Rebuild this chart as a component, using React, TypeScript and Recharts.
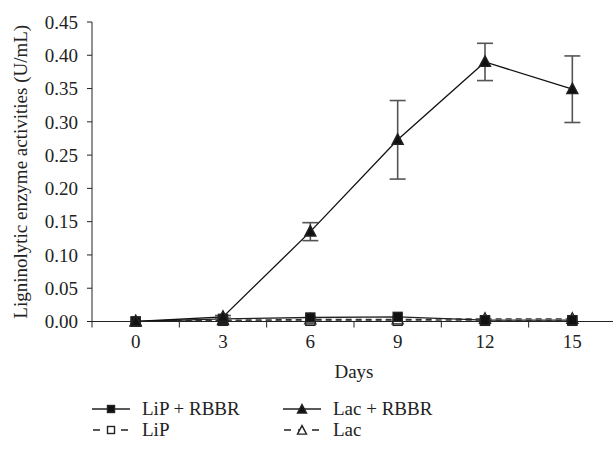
import { LineChart, Line, XAxis, YAxis, ErrorBar } from "recharts";

const days = [0, 3, 6, 9, 12, 15];
const lipRbbr = [0, 0.004, 0.006, 0.007, 0.002, 0.002];
const lacRbbr = [0, 0.007, 0.135, 0.273, 0.39, 0.349];
const lacRbbrErr = [0, 0.002, 0.0135, 0.059, 0.028, 0.05];
const lip = [0, 0.001, 0.001, 0.001, 0.001, 0.001];
const lac = [0, 0.002, 0.003, 0.003, 0.004, 0.004];

const yTicks = [0, 0.05, 0.1, 0.15, 0.2, 0.25, 0.3, 0.35, 0.4, 0.45];
// ticks between the days carry only a tick mark, the days carry only a label
const xTicks = [-1.5, 0, 1.5, 3, 4.5, 6, 7.5, 9, 10.5, 12, 13.5, 15, 16.5];

const data = days.map((d, i) => ({
    day: d,
    lipRbbr: lipRbbr[i],
    lacRbbr: lacRbbr[i],
    lacRbbrErr: lacRbbrErr[i],
    lip: lip[i],
    lac: lac[i],
}));

const FONT = "'Liberation Serif', 'DejaVu Serif', serif";
const FS = 19;

const Square = ({ cx, cy, filled, s = 9 }: any) => (
    <rect x={cx - s / 2} y={cy - s / 2} width={s} height={s} fill={filled ? "#111" : "#fff"} stroke="#222" strokeWidth={1.4} />
);

const Triangle = ({ cx, cy, filled, s = 11 }: any) => (
    <path d={`M${cx},${cy - s * 0.55} L${cx + s / 2},${cy + s * 0.4} L${cx - s / 2},${cy + s * 0.4} Z`} fill={filled ? "#111" : "#fff"} stroke="#222" strokeWidth={1.4} />
);

const XTick = ({ x, y, payload }: any) => {
    const v = payload.value;
    if (days.includes(v)) {
        return (
            <text x={x} y={y} dy={26} textAnchor="middle" fontFamily={FONT} fontSize={FS} fill="#222">
                {v}
            </text>
        );
    }
    return <line x1={x} x2={x} y1={y} y2={y + 6} stroke="#222" strokeWidth={1} />;
};

const LegendIcon = ({ kind, filled, dashed }: any) => (
    <svg width={38} height={14} style={{ display: "block" }}>
        <line x1={0} x2={38} y1={7} y2={7} stroke="#222" strokeWidth={1.3} strokeDasharray={dashed ? "7 7" : undefined} strokeDashoffset={dashed ? -1 : 0} />
        {kind === "square" ? <Square cx={19} cy={7} filled={filled} s={7} /> : <Triangle cx={19} cy={7.5} filled={filled} s={9} />}
    </svg>
);

const legendItems = [
    { name: "LiP + RBBR", kind: "square", filled: true, dashed: false },
    { name: "Lac + RBBR", kind: "triangle", filled: true, dashed: false },
    { name: "LiP", kind: "square", filled: false, dashed: true },
    { name: "Lac", kind: "triangle", filled: false, dashed: true },
];

export default function App() {
    return (
        <div style={{ position: "absolute", left: 0, top: 0, width: 613, height: 451, overflow: "hidden", background: "#fff" }}>
            <LineChart width={616} height={451} data={data} margin={{ top: 22, right: 0, left: 0, bottom: 99.5 }}>
                <XAxis
                    dataKey="day"
                    type="number"
                    domain={[-1.5, 16.5]}
                    ticks={xTicks}
                    interval={0}
                    tick={<XTick />}
                    tickLine={false}
                    tickSize={0}
                    tickMargin={0}
                    height={30}
                    stroke="#222"
                    label={{
                        content: ({ viewBox }: any) => (
                            <text x={viewBox.x + viewBox.width / 2} y={378} textAnchor="middle" fontFamily={FONT} fontSize={FS} fill="#222">
                                Days
                            </text>
                        ),
                    }}
                />
                <YAxis
                    type="number"
                    domain={[0, 0.45]}
                    ticks={yTicks}
                    interval={0}
                    width={92}
                    tickSize={5}
                    tickMargin={9}
                    stroke="#222"
                    tickFormatter={(v: number) => v.toFixed(2)}
                    tick={{ fontFamily: FONT, fontSize: FS, fill: "#222" }}
                    label={{
                        content: ({ viewBox }: any) => {
                            const cx = viewBox.x + 20;
                            const cy = viewBox.y + viewBox.height / 2;
                            return (
                                <text x={cx} y={cy} transform={`rotate(-90, ${cx}, ${cy})`} textAnchor="middle" dominantBaseline="central" fontFamily={FONT} fontSize={FS} fill="#222">
                                    Ligninolytic enzyme activities (U/mL)
                                </text>
                            );
                        },
                    }}
                />
                <Line dataKey="lip" stroke="#333" strokeWidth={1.3} strokeDasharray="6 4" isAnimationActive={false}
                    dot={(p: any) => <Square key={`lip-${p.index}`} cx={p.cx} cy={p.cy} filled={false} />} />
                <Line dataKey="lac" stroke="#333" strokeWidth={1.3} strokeDasharray="6 4" isAnimationActive={false}
                    dot={(p: any) => <Triangle key={`lac-${p.index}`} cx={p.cx} cy={p.cy} filled={false} />} />
                <Line dataKey="lipRbbr" stroke="#222" strokeWidth={1.3} isAnimationActive={false}
                    dot={(p: any) => <Square key={`lipr-${p.index}`} cx={p.cx} cy={p.cy} filled />} />
                <Line dataKey="lacRbbr" stroke="#111" strokeWidth={1.3} isAnimationActive={false}
                    dot={(p: any) => <Triangle key={`lacr-${p.index}`} cx={p.cx} cy={p.cy} filled />}>
                    <ErrorBar dataKey="lacRbbrErr" direction="y" width={8} strokeWidth={1.6} stroke="#555" isAnimationActive={false} />
                </Line>
            </LineChart>
            <div style={{ position: "absolute", left: 92, top: 398, width: 400, display: "grid", gridTemplateColumns: "191px 200px", rowGap: 0, fontFamily: FONT, fontSize: FS, color: "#222" }}>
                {legendItems.map((it) => (
                    <div key={it.name} style={{ display: "flex", alignItems: "center", gap: 12, height: 21 }}>
                        <LegendIcon kind={it.kind} filled={it.filled} dashed={it.dashed} />
                        <span>{it.name}</span>
                    </div>
                ))}
            </div>
        </div>
    );
}
